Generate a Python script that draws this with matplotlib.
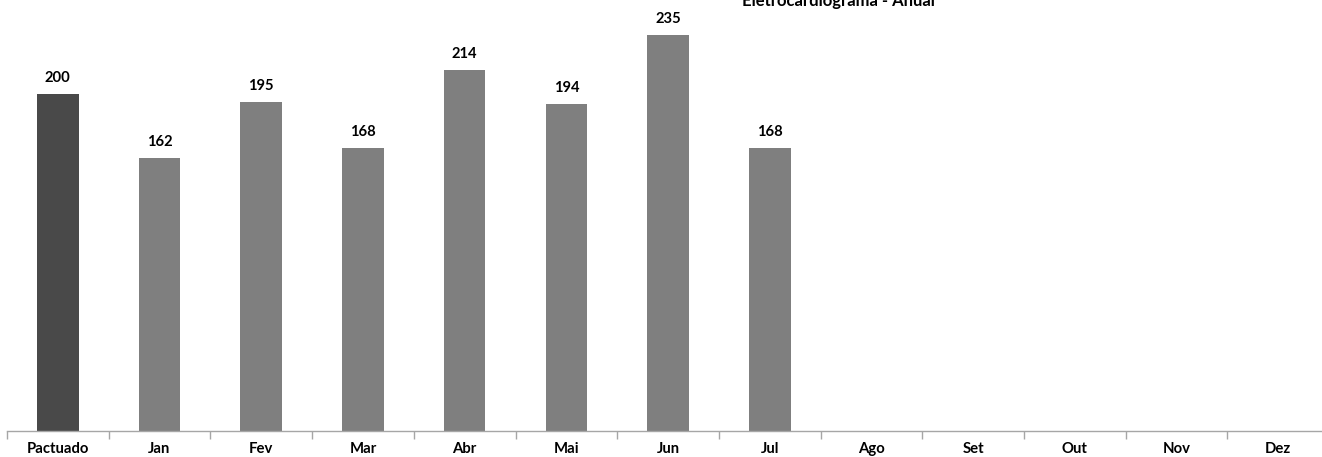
import matplotlib
matplotlib.use("Agg")
import matplotlib.pyplot as plt
import numpy as np

categories = ["Pactuado", "Jan", "Fev", "Mar", "Abr", "Mai", "Jun", "Jul", "Ago", "Set", "Out", "Nov", "Dez"]
values = [200, 162, 195, 168, 214, 194, 235, 168, None, None, None, None, None]
title = "Eletrocardiograma - Anual"

plt.rcParams['font.family'] = ['Lato', 'DejaVu Sans']

W, H = 1322, 457
step = 101.7
fig = plt.figure(figsize=(W / 100, H / 100), dpi=100)
ax = fig.add_axes([7 / W, (H - 431) / H, 13 * step / W, 431 / H])

x = np.arange(len(categories))
colors = ["#494949"] + ["#7f7f7f"] * (len(categories) - 1)
for i, v in enumerate(values):
    if v is None:
        continue
    ax.bar(x[i], v, width=0.41, color=colors[i], zorder=2)
    ax.text(x[i], v + 5.5, str(v), ha="center", va="bottom", fontsize=10.6, fontweight="bold", color="black")

ax.set_xlim(-0.5, len(categories) - 0.5)
ax.set_ylim(0, 255.8)
for s in ["top", "right", "left"]:
    ax.spines[s].set_visible(False)
ax.spines["bottom"].set_color("#a6a6a6")
ax.spines["bottom"].set_linewidth(1.0)
ax.set_yticks([])
ax.set_xticks(x)
ax.set_xticklabels(categories, fontsize=10.7, fontweight="bold")
ax.tick_params(axis="x", which="major", length=0, pad=8)
ax.set_xticks(np.arange(-0.5, len(categories) + 0.5, 1), minor=True)
ax.tick_params(axis="x", which="minor", length=6, color="#a6a6a6", width=1)

fig.text(838 / W, (H - 6) / H, title, ha="center", va="baseline", fontsize=12, fontweight="bold")

fig.savefig("out.png", dpi=100)
